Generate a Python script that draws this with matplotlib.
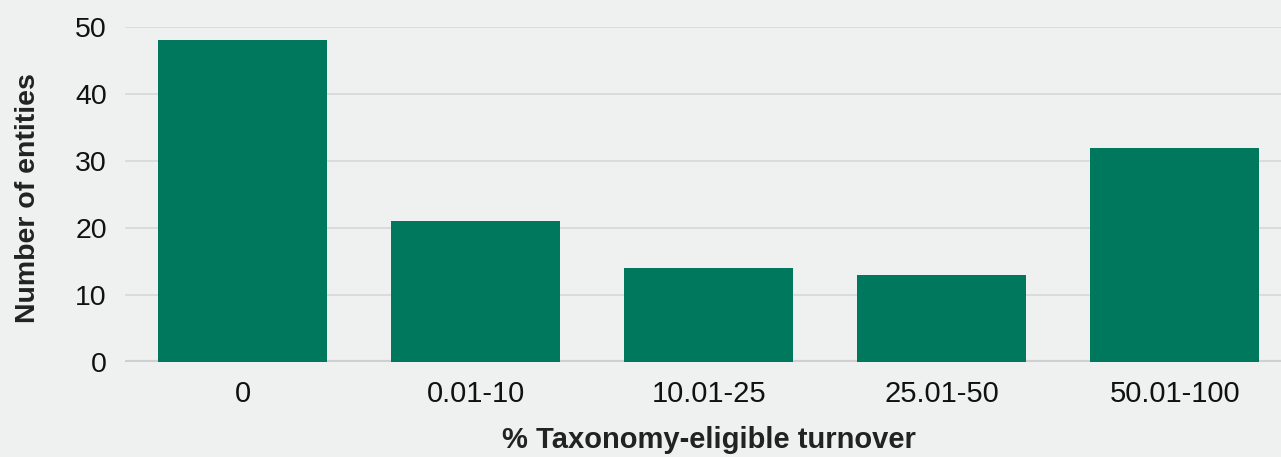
import matplotlib
matplotlib.use("Agg")
import matplotlib.pyplot as plt

categories = ["0", "0.01-10", "10.01-25", "25.01-50", "50.01-100"]
entities = [48, 21, 14, 13, 32]
y_ticks = [0, 10, 20, 30, 40, 50]

bg = "#eff1f0"
bar_color = "#00785e"
grid_color = "#d6d7d6"

plt.rcParams['font.family'] = ['Liberation Sans', 'DejaVu Sans']

fig = plt.figure(figsize=(12.81, 4.57), dpi=100, facecolor=bg)
ax = fig.add_axes([125/1281, (457-362)/457, 1 - 125/1281, (362-27)/457])
ax.set_facecolor(bg)

x = list(range(len(categories)))
ax.bar(x, entities, width=0.725, color=bar_color, zorder=3)

ax.set_xlim(-0.505, 4.455)
ax.set_ylim(0, 50)
ax.set_yticks(y_ticks)
ax.set_xticks(x)
ax.set_xticklabels(categories)

for s in ax.spines.values():
    s.set_visible(False)
ax.yaxis.grid(True, color=grid_color, linewidth=1.2, zorder=0)
ax.axhline(0, color="#d0d0d0", linewidth=3, zorder=1)
ax.set_axisbelow(True)

ax.tick_params(axis='y', length=0, pad=13, labelsize=20.5, labelcolor="#111111")
ax.tick_params(axis='x', length=0, pad=13, labelsize=21, labelcolor="#111111")

ax.set_ylabel("Number of entities", fontsize=20.5, fontweight='bold', color="#222222", labelpad=24.5)
ax.set_xlabel("% Taxonomy-eligible turnover", fontsize=21, fontweight='bold', color="#222222", labelpad=13)
ax.xaxis.label.set_x(0.505)
ax.yaxis.label.set_y(0.49)

fig.savefig("out.png", dpi=100, facecolor=bg)
